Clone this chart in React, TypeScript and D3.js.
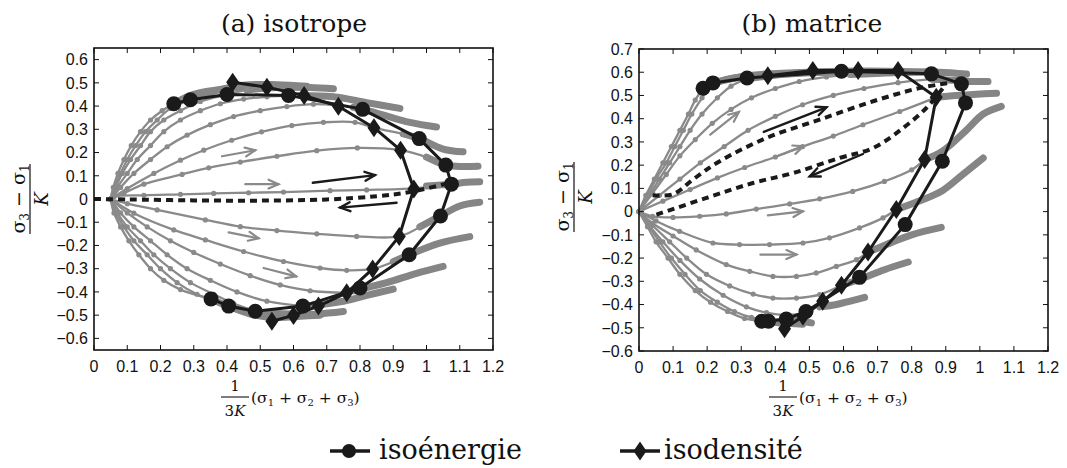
import React from "react";
import * as d3 from "d3";

type P = [number, number];

// ---------- shared axis data ----------
const xTicks: number[] = [0, 0.1, 0.2, 0.3, 0.4, 0.5, 0.6, 0.7, 0.8, 0.9, 1, 1.1, 1.2];
const xTickLabels: string[] = ["0", "0.1", "0.2", "0.3", "0.4", "0.5", "0.6", "0.7", "0.8", "0.9", "1", "1.1", "1.2"];
const isoYTicks: number[] = [-0.6, -0.5, -0.4, -0.3, -0.2, -0.1, 0, 0.1, 0.2, 0.3, 0.4, 0.5, 0.6];
const matYTicks: number[] = [-0.6, -0.5, -0.4, -0.3, -0.2, -0.1, 0, 0.1, 0.2, 0.3, 0.4, 0.5, 0.6, 0.7];

// ---------- (a) isotrope ----------
const isoPaths: P[][] = [
  [[0.05, 0], [0.06, 0.01], [0.15, 0.016], [0.26, 0.02], [0.36, 0.024], [0.465, 0.027], [0.57, 0.03], [0.71, 0.036], [0.82, 0.039], [0.96, 0.046], [1.04, 0.058]],
  [[0.05, 0], [0.09, 0.025], [0.15, 0.064], [0.265, 0.106], [0.345, 0.134], [0.44, 0.159], [0.55, 0.184], [0.67, 0.208], [0.792, 0.22], [0.922, 0.21], [1.0, 0.18]],
  [[0.05, 0], [0.1, 0.045], [0.18, 0.11], [0.26, 0.167], [0.33, 0.21], [0.414, 0.253], [0.504, 0.289], [0.595, 0.316], [0.69, 0.33], [0.785, 0.33], [0.842, 0.307], [0.93, 0.28]],
  [[0.05, 0], [0.08, 0.05], [0.12, 0.11], [0.17, 0.17], [0.22, 0.225], [0.28, 0.275], [0.35, 0.32], [0.42, 0.355], [0.5, 0.38], [0.58, 0.398], [0.66, 0.408], [0.735, 0.402]],
  [[0.05, 0], [0.07, 0.05], [0.1, 0.11], [0.13, 0.17], [0.17, 0.23], [0.21, 0.29], [0.26, 0.34], [0.32, 0.38], [0.38, 0.41], [0.45, 0.43], [0.52, 0.44], [0.585, 0.446]],
  [[0.05, 0], [0.065, 0.05], [0.085, 0.11], [0.11, 0.17], [0.14, 0.23], [0.17, 0.29], [0.21, 0.34], [0.26, 0.38], [0.32, 0.42], [0.4, 0.45], [0.46, 0.47]],
  [[0.05, 0], [0.06, 0.05], [0.08, 0.11], [0.1, 0.17], [0.125, 0.23], [0.155, 0.29], [0.19, 0.34], [0.23, 0.39], [0.29, 0.427]],
  [[0.05, 0], [0.058, 0.05], [0.072, 0.11], [0.09, 0.17], [0.112, 0.23], [0.14, 0.29], [0.17, 0.34], [0.205, 0.38], [0.24, 0.41]],
  [[0.05, 0], [0.1, -0.02], [0.19, -0.047], [0.335, -0.09], [0.44, -0.119], [0.55, -0.136], [0.67, -0.15], [0.79, -0.161], [0.918, -0.161], [0.98, -0.12]],
  [[0.05, 0], [0.12, -0.061], [0.24, -0.133], [0.335, -0.176], [0.45, -0.226], [0.57, -0.269], [0.68, -0.297], [0.76, -0.307], [0.838, -0.301], [0.9, -0.27]],
  [[0.05, 0], [0.1, -0.06], [0.16, -0.12], [0.23, -0.18], [0.3, -0.23], [0.38, -0.28], [0.47, -0.33], [0.56, -0.37], [0.65, -0.395], [0.76, -0.404]],
  [[0.05, 0], [0.08, -0.06], [0.12, -0.12], [0.17, -0.18], [0.22, -0.24], [0.28, -0.3], [0.35, -0.35], [0.43, -0.4], [0.52, -0.44], [0.628, -0.461]],
  [[0.05, 0], [0.07, -0.06], [0.1, -0.12], [0.14, -0.18], [0.18, -0.24], [0.23, -0.3], [0.29, -0.36], [0.36, -0.41], [0.42, -0.45], [0.485, -0.483]],
  [[0.05, 0], [0.065, -0.06], [0.09, -0.12], [0.12, -0.18], [0.16, -0.24], [0.2, -0.3], [0.25, -0.36], [0.31, -0.41], [0.405, -0.461]],
  [[0.05, 0], [0.06, -0.06], [0.08, -0.12], [0.105, -0.18], [0.135, -0.24], [0.17, -0.3], [0.21, -0.35], [0.26, -0.39], [0.352, -0.43]],
];
const isoTails: P[][] = [
  [[1.0, 0.056], [1.075, 0.064], [1.12, 0.072], [1.16, 0.074]],
  [[1.0, 0.18], [1.058, 0.146], [1.11, 0.14], [1.155, 0.141]],
  [[0.93, 0.28], [0.978, 0.26], [1.05, 0.215], [1.11, 0.203]],
  [[0.78, 0.395], [0.85, 0.37], [0.95, 0.33], [1.03, 0.31]],
  [[0.62, 0.446], [0.72, 0.44], [0.82, 0.415], [0.92, 0.39]],
  [[0.46, 0.47], [0.55, 0.48], [0.65, 0.48], [0.72, 0.475]],
  [[0.29, 0.427], [0.35, 0.46], [0.45, 0.49], [0.55, 0.492], [0.64, 0.485]],
  [[0.24, 0.41], [0.3, 0.45], [0.4, 0.475], [0.5, 0.485], [0.58, 0.48]],
  [[0.98, -0.12], [1.042, -0.073], [1.1, -0.03], [1.16, -0.014]],
  [[0.9, -0.27], [0.948, -0.24], [1.04, -0.19], [1.13, -0.162]],
  [[0.78, -0.395], [0.88, -0.36], [0.97, -0.32], [1.05, -0.29]],
  [[0.64, -0.46], [0.75, -0.44], [0.82, -0.415], [0.9, -0.388]],
  [[0.5, -0.49], [0.6, -0.5], [0.67, -0.495], [0.75, -0.484]],
  [[0.405, -0.461], [0.47, -0.495], [0.55, -0.51], [0.62, -0.505], [0.68, -0.5]],
  [[0.352, -0.43], [0.42, -0.47], [0.5, -0.49], [0.6, -0.495]],
];
const isoEnergie: P[] = [
  [0.24, 0.41], [0.29, 0.427], [0.4, 0.45], [0.585, 0.446], [0.808, 0.386], [0.978, 0.26], [1.058, 0.146], [1.075, 0.064],
  [1.042, -0.073], [0.948, -0.24], [0.8, -0.383], [0.628, -0.461], [0.485, -0.483], [0.405, -0.461], [0.352, -0.43],
];
const isoDensite: P[] = [
  [0.417, 0.503], [0.52, 0.481], [0.632, 0.446], [0.735, 0.399], [0.842, 0.307], [0.922, 0.21], [0.962, 0.043],
  [0.918, -0.161], [0.838, -0.301], [0.76, -0.404], [0.675, -0.461], [0.6, -0.501], [0.535, -0.526],
];
const isoDashed: P[][] = [
  [[0, 0], [0.1, -0.002], [0.3, -0.006], [0.5, -0.007], [0.7, -0.002], [0.85, 0.012], [0.95, 0.03], [1.06, 0.066]],
];
const isoGrayArrows: P[][] = [
  [[0.385, 0.184], [0.485, 0.21]],
  [[0.455, 0.064], [0.555, 0.064]],
  [[0.405, -0.144], [0.495, -0.169]],
  [[0.51, -0.297], [0.608, -0.333]],
];
const isoBlackArrows: P[][] = [
  [[0.658, 0.07], [0.845, 0.103]],
  [[0.91, -0.016], [0.74, -0.037]],
];

// ---------- (b) matrice ----------
const matPaths: P[][] = [
  [[0, 0], [0.02, 0.07], [0.045, 0.14], [0.07, 0.21], [0.095, 0.28], [0.12, 0.35], [0.145, 0.42], [0.165, 0.48], [0.188, 0.531]],
  [[0, 0], [0.025, 0.07], [0.05, 0.14], [0.08, 0.21], [0.105, 0.28], [0.13, 0.35], [0.155, 0.42], [0.185, 0.49], [0.217, 0.554]],
  [[0, 0], [0.03, 0.07], [0.06, 0.14], [0.09, 0.21], [0.12, 0.28], [0.15, 0.35], [0.185, 0.42], [0.23, 0.49], [0.27, 0.54], [0.317, 0.572]],
  [[0, 0], [0.04, 0.08], [0.08, 0.16], [0.12, 0.24], [0.165, 0.31], [0.215, 0.38], [0.27, 0.44], [0.33, 0.49], [0.4, 0.53], [0.47, 0.56], [0.55, 0.58], [0.62, 0.59]],
  [[0, 0], [0.06, 0.07], [0.12, 0.14], [0.18, 0.21], [0.25, 0.28], [0.32, 0.35], [0.4, 0.41], [0.48, 0.46], [0.57, 0.5], [0.66, 0.53], [0.76, 0.555], [0.858, 0.57]],
  [[0, 0], [0.07, 0.045], [0.15, 0.095], [0.23, 0.145], [0.31, 0.19], [0.4, 0.235], [0.48, 0.28], [0.57, 0.325], [0.657, 0.374], [0.765, 0.431], [0.872, 0.492]],
  [[0, 0], [0.04, -0.02], [0.1, -0.025], [0.178, -0.02], [0.256, -0.01], [0.344, 0.011], [0.442, 0.033], [0.53, 0.055], [0.627, 0.087], [0.72, 0.13], [0.8, 0.18], [0.838, 0.224]],
  [[0, 0], [0.05, -0.04], [0.119, -0.085], [0.217, -0.135], [0.295, -0.142], [0.383, -0.142], [0.481, -0.135], [0.559, -0.113], [0.647, -0.07], [0.716, -0.027], [0.755, 0.009]],
  [[0, 0], [0.04, -0.05], [0.1, -0.105], [0.168, -0.165], [0.256, -0.228], [0.325, -0.257], [0.393, -0.279], [0.462, -0.279], [0.52, -0.264], [0.579, -0.236], [0.638, -0.207], [0.672, -0.174]],
  [[0, 0], [0.04, -0.06], [0.09, -0.13], [0.14, -0.2], [0.198, -0.27], [0.266, -0.32], [0.335, -0.355], [0.393, -0.372], [0.462, -0.372], [0.53, -0.357], [0.594, -0.317]],
  [[0, 0], [0.03, -0.06], [0.07, -0.13], [0.12, -0.21], [0.178, -0.29], [0.247, -0.36], [0.315, -0.41], [0.374, -0.435], [0.432, -0.445], [0.491, -0.435], [0.53, -0.4]],
  [[0, 0], [0.03, -0.065], [0.06, -0.13], [0.095, -0.2], [0.135, -0.27], [0.18, -0.34], [0.23, -0.39], [0.28, -0.43], [0.33, -0.455], [0.38, -0.465], [0.432, -0.462]],
  [[0, 0], [0.025, -0.065], [0.05, -0.13], [0.085, -0.2], [0.12, -0.27], [0.165, -0.34], [0.21, -0.39], [0.26, -0.43], [0.31, -0.46], [0.36, -0.472]],
];
const matTails: P[][] = [
  [[0.188, 0.531], [0.26, 0.57], [0.4, 0.59], [0.55, 0.6]],
  [[0.217, 0.554], [0.32, 0.585], [0.5, 0.6], [0.7, 0.6]],
  [[0.317, 0.572], [0.45, 0.595], [0.65, 0.605], [0.86, 0.6]],
  [[0.62, 0.59], [0.75, 0.598], [0.88, 0.6], [0.961, 0.592]],
  [[0.858, 0.57], [0.93, 0.565], [0.98, 0.56], [1.024, 0.56]],
  [[0.872, 0.492], [0.93, 0.5], [0.99, 0.505], [1.049, 0.51]],
  [[0.838, 0.224], [0.89, 0.26], [0.96, 0.35], [1.01, 0.42], [1.063, 0.453]],
  [[0.755, 0.009], [0.83, 0.05], [0.89, 0.09], [0.95, 0.16], [1.01, 0.231]],
  [[0.672, -0.174], [0.726, -0.142], [0.8, -0.1], [0.887, -0.068]],
  [[0.594, -0.317], [0.65, -0.29], [0.72, -0.25], [0.79, -0.217]],
  [[0.53, -0.41], [0.58, -0.4], [0.62, -0.385], [0.662, -0.369]],
  [[0.432, -0.462], [0.47, -0.47], [0.506, -0.479]],
  [[0.36, -0.472], [0.42, -0.48], [0.48, -0.485]],
];
const matEnergie: P[] = [
  [0.188, 0.531], [0.217, 0.554], [0.317, 0.575], [0.594, 0.604], [0.858, 0.593], [0.946, 0.55], [0.958, 0.468], [0.89, 0.217],
  [0.781, -0.056], [0.647, -0.283], [0.49, -0.43], [0.432, -0.462], [0.38, -0.472], [0.36, -0.472],
];
const matDensite: P[] = [
  [0.378, 0.585], [0.51, 0.607], [0.643, 0.607], [0.76, 0.607], [0.872, 0.492], [0.838, 0.224], [0.755, 0.009],
  [0.672, -0.174], [0.594, -0.317], [0.539, -0.386], [0.481, -0.45], [0.427, -0.504],
];
const matDashed: P[][] = [
  [[0.04, 0.07], [0.1, 0.075], [0.16, 0.14], [0.237, 0.217], [0.374, 0.317], [0.53, 0.396], [0.687, 0.475], [0.823, 0.532], [0.912, 0.554]],
  [[0.051, -0.013], [0.198, 0.059], [0.334, 0.123], [0.452, 0.166], [0.589, 0.231], [0.687, 0.274], [0.775, 0.36], [0.843, 0.446], [0.892, 0.532]],
];
const matGrayArrows: P[][] = [
  [[0.209, 0.331], [0.293, 0.429]],
  [[0.378, -0.016], [0.481, 0.001]],
  [[0.356, -0.185], [0.462, -0.185]],
  [[0.4, 0.236], [0.482, 0.282]],
];
const matBlackArrows: P[][] = [
  [[0.366, 0.343], [0.55, 0.449]],
  [[0.657, 0.248], [0.501, 0.152]],
];

const legendLabels: string[] = ["isoénergie", "isodensité"];

const GRAY = "#8a8a8a";
const TAIL = "#858585";
const BLACK = "#1a1a1a";
const SANS = "'Liberation Sans', Arial, sans-serif";
const SERIF = "'DejaVu Serif', serif";

const diamondPath = "M0,-9.5L6.5,0L0,9.5L-6.5,0Z";

function fmt(v: number): string {
  const s = String(+v.toFixed(1));
  return s.startsWith("-") ? "\u2212" + s.slice(1) : s;
}

type PanelCfg = {
  left: number; right: number; top: number; bottom: number;
  yDomain: [number, number];
  yTicks: number[];
  title: string; titleX: number;
  paths: P[][]; tails: P[][];
  energie: P[]; densite: P[];
  dashed: P[][];
  grayArrows: P[][]; blackArrows: P[][];
  yLabelX: number; yLabelY: number;
  xLabelX: number;
};

function Arrow({ a, b, x, y, color, w }: { a: P; b: P; x: any; y: any; color: string; w: number }) {
  const x1 = x(a[0]), y1 = y(a[1]), x2 = x(b[0]), y2 = y(b[1]);
  const ang = Math.atan2(y2 - y1, x2 - x1);
  const L = 11, s = 0.42;
  const h1: P = [x2 - L * Math.cos(ang - s), y2 - L * Math.sin(ang - s)];
  const h2: P = [x2 - L * Math.cos(ang + s), y2 - L * Math.sin(ang + s)];
  return (
    <g stroke={color} strokeWidth={w} fill="none" strokeLinecap="round">
      <line x1={x1} y1={y1} x2={x2} y2={y2} />
      <path d={`M${h1[0]},${h1[1]}L${x2},${y2}L${h2[0]},${h2[1]}`} strokeLinejoin="miter" />
    </g>
  );
}

function Panel({ c }: { c: PanelCfg }) {
  const x = d3.scaleLinear().domain([0, 1.2]).range([c.left, c.right]);
  const y = d3.scaleLinear().domain(c.yDomain).range([c.bottom, c.top]);
  const smooth = d3.line<P>().x((d) => x(d[0])).y((d) => y(d[1])).curve(d3.curveCatmullRom.alpha(0.5));
  const straight = d3.line<P>().x((d) => x(d[0])).y((d) => y(d[1]));
  const tk = 5;
  return (
    <g>
      <text x={c.titleX} y={32} textAnchor="middle" fontFamily={SERIF} fontSize={25} fill="#111">{c.title}</text>
      {c.tails.map((t, i) => (
        <path key={"t" + i} d={smooth(t) || ""} fill="none" stroke={TAIL} strokeWidth={7} strokeLinecap="round" />
      ))}
      {c.paths.map((p, i) => (
        <g key={"p" + i}>
          <path d={smooth(p) || ""} fill="none" stroke={GRAY} strokeWidth={2.3} />
          {p.map((d, j) => (
            <circle key={j} cx={x(d[0])} cy={y(d[1])} r={2.6} fill={GRAY} />
          ))}
        </g>
      ))}
      {c.dashed.map((p, i) => (
        <path key={"d" + i} d={smooth(p) || ""} fill="none" stroke={BLACK} strokeWidth={4} strokeDasharray="7,5" />
      ))}
      {c.grayArrows.map((a, i) => (
        <Arrow key={"ga" + i} a={a[0]} b={a[1]} x={x} y={y} color={GRAY} w={2.2} />
      ))}
      {c.blackArrows.map((a, i) => (
        <Arrow key={"ba" + i} a={a[0]} b={a[1]} x={x} y={y} color={BLACK} w={2.4} />
      ))}
      <path d={straight(c.densite) || ""} fill="none" stroke={BLACK} strokeWidth={3} strokeLinejoin="round" />
      <path d={straight(c.energie) || ""} fill="none" stroke={BLACK} strokeWidth={3} strokeLinejoin="round" />
      {c.densite.map((d, i) => (
        <path key={"dm" + i} d={diamondPath} transform={`translate(${x(d[0])},${y(d[1])})`} fill={BLACK} />
      ))}
      {c.energie.map((d, i) => (
        <circle key={"cm" + i} cx={x(d[0])} cy={y(d[1])} r={7.5} fill={BLACK} />
      ))}
      <rect x={c.left} y={c.top} width={c.right - c.left} height={c.bottom - c.top} fill="none" stroke="#111" strokeWidth={1.6} />
      {xTicks.map((t, i) => (
        <g key={"xt" + i}>
          <line x1={x(t)} x2={x(t)} y1={c.bottom} y2={c.bottom - tk} stroke="#111" strokeWidth={1} />
          <line x1={x(t)} x2={x(t)} y1={c.top} y2={c.top + tk} stroke="#111" strokeWidth={1} />
          <text x={x(t)} y={c.bottom + 22} textAnchor="middle" fontFamily={SANS} fontSize={16} fill="#111">{xTickLabels[i]}</text>
        </g>
      ))}
      {c.yTicks.map((t, i) => (
        <g key={"yt" + i}>
          <line x1={c.left} x2={c.left + tk} y1={y(t)} y2={y(t)} stroke="#111" strokeWidth={1} />
          <line x1={c.right} x2={c.right - tk} y1={y(t)} y2={y(t)} stroke="#111" strokeWidth={1} />
          <text x={c.left - 6} y={y(t)} dy="0.36em" textAnchor="end" fontFamily={SANS} fontSize={16} fill="#111">{fmt(t)}</text>
        </g>
      ))}
      <g transform={`translate(${c.yLabelX},${c.yLabelY}) rotate(-90)`} fontFamily={SERIF} fill="#111">
        <text x={0} y={-4} textAnchor="middle" fontSize={19}>
          <tspan>σ</tspan><tspan fontSize={12} dy={4}>3</tspan><tspan dy={-4}> − σ</tspan><tspan fontSize={12} dy={4}>1</tspan>
        </text>
        <line x1={-35} x2={35} y1={1} y2={1} stroke="#111" strokeWidth={1.2} />
        <text x={0} y={19} textAnchor="middle" fontSize={18} fontStyle="italic">K</text>
      </g>
      <g fontFamily={SERIF} fill="#111">
        <text x={c.xLabelX} y={391} textAnchor="middle" fontSize={15}>1</text>
        <line x1={c.xLabelX - 14} x2={c.xLabelX + 14} y1={397} y2={397} stroke="#111" strokeWidth={1.1} />
        <text x={c.xLabelX} y={416} textAnchor="middle" fontSize={15}>3<tspan fontStyle="italic">K</tspan></text>
        <text x={c.xLabelX + 16} y={403} fontSize={15.5}>
          (σ<tspan fontSize={10} dy={3}>1</tspan><tspan dy={-3}> + σ</tspan><tspan fontSize={10} dy={3}>2</tspan><tspan dy={-3}> + σ</tspan><tspan fontSize={10} dy={3}>3</tspan><tspan dy={-3}>)</tspan>
        </text>
      </g>
    </g>
  );
}

const panelA: PanelCfg = {
  left: 94, right: 493, top: 48, bottom: 350,
  yDomain: [-0.65, 0.65], yTicks: isoYTicks,
  title: "(a) isotrope", titleX: 294,
  paths: isoPaths, tails: isoTails, energie: isoEnergie, densite: isoDensite,
  dashed: isoDashed, grayArrows: isoGrayArrows, blackArrows: isoBlackArrows,
  yLabelX: 29, yLabelY: 199, xLabelX: 235,
};

const panelB: PanelCfg = {
  left: 639, right: 1048, top: 49, bottom: 351,
  yDomain: [-0.6, 0.7], yTicks: matYTicks,
  title: "(b) matrice", titleX: 812,
  paths: matPaths, tails: matTails, energie: matEnergie, densite: matDensite,
  dashed: matDashed, grayArrows: matGrayArrows, blackArrows: matBlackArrows,
  yLabelX: 573, yLabelY: 197, xLabelX: 783,
};

export default function App() {
  return (
    <svg width={1067} height={468} viewBox="0 0 1067 468" style={{ position: "absolute", left: 0, top: 0, background: "#fff" }}>
      <rect x={0} y={0} width={1067} height={468} fill="#fff" />
      <Panel c={panelA} />
      <Panel c={panelB} />
      <g>
        <line x1={330} x2={370} y1={451} y2={451} stroke={BLACK} strokeWidth={3.5} />
        <circle cx={349} cy={451} r={7} fill={BLACK} />
        <text x={379} y={459} fontFamily={SERIF} fontSize={27} fill="#111">{legendLabels[0]}</text>
        <line x1={620} x2={660} y1={451} y2={451} stroke={BLACK} strokeWidth={3.5} />
        <path d={diamondPath} transform="translate(640,451)" fill={BLACK} />
        <text x={664} y={459} fontFamily={SERIF} fontSize={27} fill="#111">{legendLabels[1]}</text>
      </g>
    </svg>
  );
}
